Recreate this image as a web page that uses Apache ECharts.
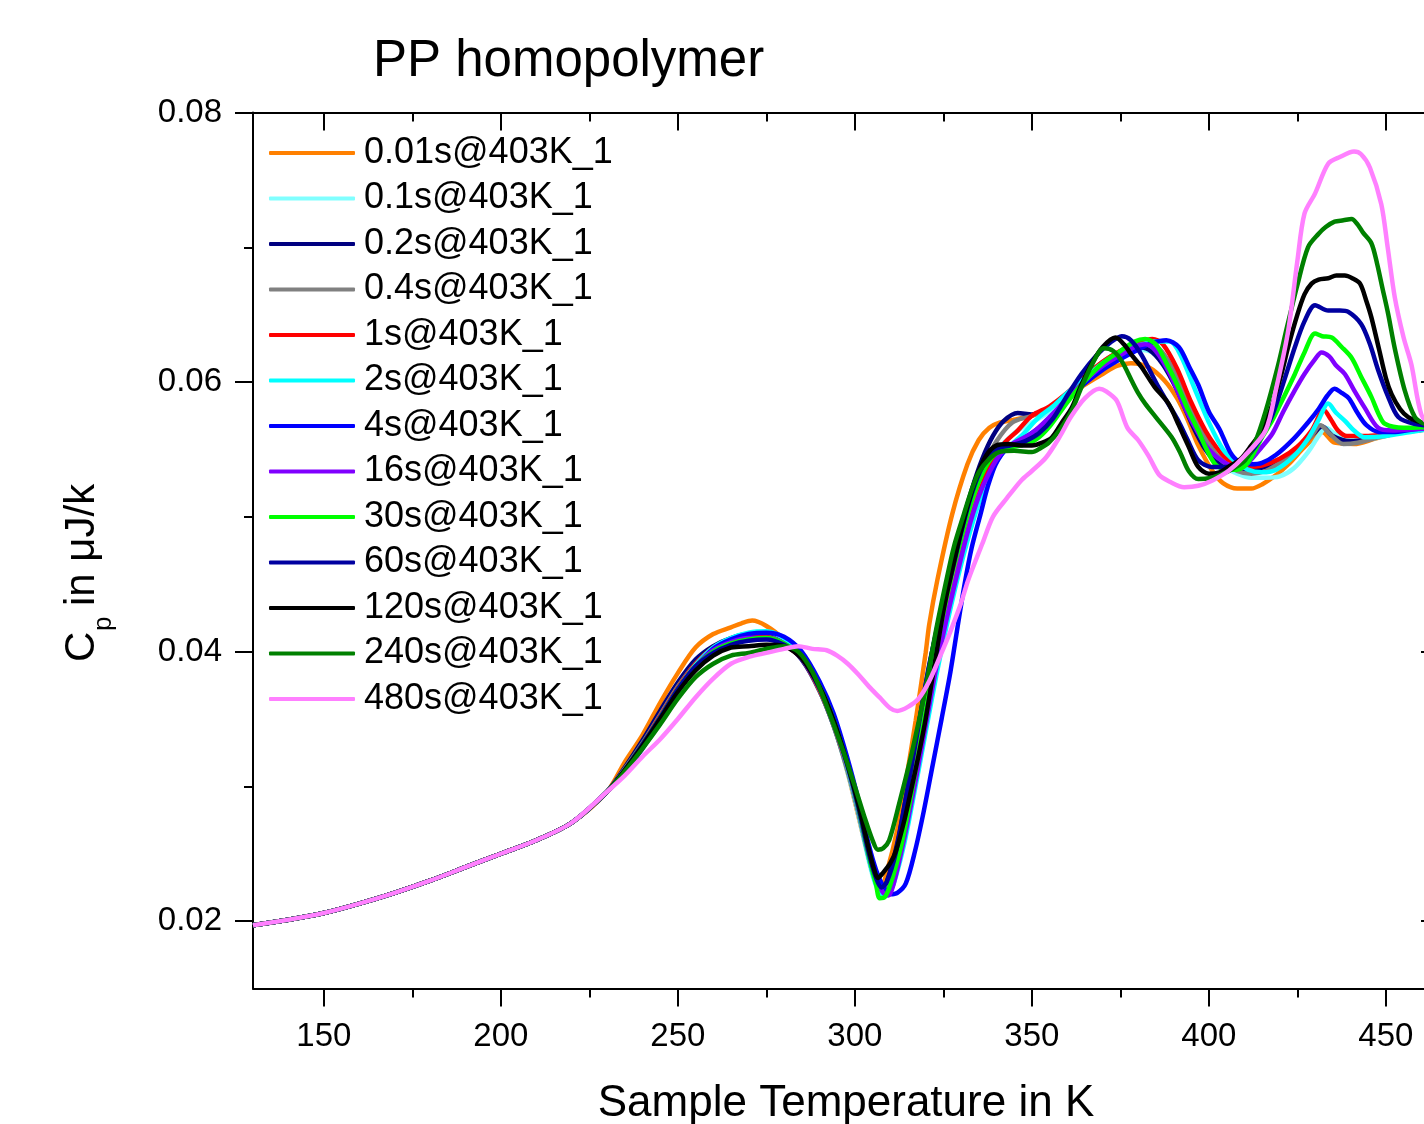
<!DOCTYPE html>
<html><head><meta charset="utf-8">
<script src="https://cdn.jsdelivr.net/npm/echarts@6/dist/echarts.min.js"></script>
<style>html,body{margin:0;padding:0;background:#fff}#c{width:1424px;height:1124px}</style>
</head><body><div id="c"></div>
<script>
// shared low-temperature part (all curves overlap here)
const lowT  = [130,140,150,160,170,180,190,200,210,220,230];
const lowCp = [0.0197,0.0201,0.0206,0.0213,0.0221,0.0230,0.0240,0.0250,0.0260,0.0273,0.0296];

const names = ['0.01s@403K_1','0.1s@403K_1','0.2s@403K_1','0.4s@403K_1','1s@403K_1','2s@403K_1','4s@403K_1','16s@403K_1','30s@403K_1','60s@403K_1','120s@403K_1','240s@403K_1','480s@403K_1'];
const colors = ['#FF8000','#80FFFF','#000080','#808080','#FF0000','#00FFFF','#0000FF','#8000FF','#00FF00','#0000A0','#000000','#008000','#FF80FF'];

const s001 = [[235,0.0318],[240,0.0338],[245,0.0362],[250,0.0384],[255,0.0403],[260,0.0413],[265,0.0418],[268,0.0421],[271,0.0423],[275,0.0419],[280,0.0409],[285,0.0395],[290,0.0372],[294,0.0346],[298,0.0310],[301,0.0278],[304,0.0246],[306,0.0231],[307.5,0.0226],[309,0.0236],[312,0.0268],[314.5,0.0305],[317.2,0.0349],[320,0.0399],[321,0.0420],[323.3,0.0453],[327.5,0.0502],[331.8,0.0539],[335,0.0557],[338,0.0566],[341,0.0570],[345,0.0572],[350,0.0575],[355,0.0580],[360,0.0588],[365,0.0598],[370,0.0606],[374,0.0612],[378,0.0614],[383,0.0611],[387.5,0.0601],[391,0.0588],[394,0.0572],[397,0.0553],[401,0.0534],[404,0.0525],[408,0.0521],[412,0.0521],[415,0.0524],[419,0.0531],[422.5,0.0539],[426,0.0549],[429,0.0557],[432,0.0563],[435.5,0.0555],[441,0.0554],[447,0.0558],[455,0.0563],[465,0.0567]];
const s01 = [[235,0.0313],[240,0.0332],[245,0.0353],[250,0.0373],[255,0.0390],[260,0.0402],[265,0.0409],[270,0.0413],[275,0.0413],[280,0.0407],[285,0.0396],[290,0.0372],[294,0.0345],[298,0.0310],[301,0.0279],[304,0.0244],[306,0.0226],[308,0.0219],[310,0.0224],[313,0.0252],[316,0.0292],[319,0.0336],[322,0.0380],[325,0.0420],[328,0.0453],[331,0.0484],[334,0.0512],[337,0.0533],[340,0.0548],[345,0.0562],[350,0.0570],[355,0.0578],[360,0.0590],[365,0.0603],[370,0.0614],[375,0.0620],[380,0.0624],[384,0.0622],[388,0.0612],[392,0.0593],[396,0.0570],[400,0.0550],[404,0.0538],[408,0.0532],[412,0.0529],[416,0.0529],[420,0.0530],[424,0.0536],[428,0.0548],[431,0.0560],[433,0.0566],[436,0.0561],[440,0.0557],[446,0.0558],[455,0.0563],[465,0.0566]];
const s02 = [[235,0.0314],[240,0.0334],[245,0.0356],[250,0.0377],[255,0.0394],[260,0.0404],[265,0.0410],[270,0.0413],[275,0.0412],[280,0.0406],[285,0.0394],[290,0.0371],[294,0.0345],[298,0.0312],[301,0.0281],[304,0.0247],[306,0.0229],[307.5,0.0224],[309,0.0229],[312,0.0258],[315,0.0300],[318,0.0345],[321,0.0390],[324,0.0425],[326.5,0.0453],[330,0.0492],[333,0.0520],[336,0.0543],[339,0.0560],[342,0.0571],[346,0.0577],[350,0.0576],[355,0.0581],[360,0.0591],[365,0.0603],[370,0.0614],[375,0.0622],[379,0.0626],[383,0.0624],[387,0.0613],[391,0.0594],[395,0.0570],[399,0.0550],[403,0.0539],[408,0.0535],[412,0.0535],[416,0.0537],[420,0.0541],[425,0.0550],[429,0.0560],[432,0.0567],[435,0.0560],[440,0.0556],[447,0.0559],[455,0.0563],[465,0.0566]];
const s04 = [[235,0.0313],[240,0.0332],[245,0.0353],[250,0.0374],[255,0.0391],[260,0.0402],[265,0.0408],[270,0.0411],[275,0.0411],[280,0.0406],[285,0.0395],[290,0.0371],[294,0.0345],[298,0.0311],[301,0.0281],[304,0.0246],[306,0.0228],[308,0.0222],[310,0.0227],[313,0.0256],[316,0.0298],[319,0.0343],[322,0.0386],[325,0.0423],[327.5,0.0453],[331,0.0490],[334,0.0518],[337,0.0540],[340,0.0556],[344.5,0.0570],[350,0.0575],[355,0.0581],[360,0.0591],[365,0.0604],[370,0.0615],[375,0.0623],[380,0.0628],[384,0.0628],[388,0.0618],[392,0.0598],[396,0.0575],[400,0.0554],[404,0.0541],[408,0.0534],[412,0.0532],[416,0.0534],[420,0.0540],[425,0.0550],[429,0.0560],[431.5,0.0568],[434,0.0562],[438,0.0554],[442,0.0555],[448,0.0559],[455,0.0563],[465,0.0566]];
const s1 = [[235,0.0312],[240,0.0331],[245,0.0352],[250,0.0373],[255,0.0391],[260,0.0403],[265,0.0409],[270,0.0412],[275,0.0411],[280,0.0405],[285,0.0395],[290,0.0372],[294,0.0347],[298,0.0313],[301,0.0283],[304,0.0249],[306,0.0231],[308,0.0223],[309.5,0.0222],[311,0.0232],[314,0.0262],[317,0.0302],[320,0.0345],[323,0.0387],[326,0.0424],[328.5,0.0453],[332,0.0490],[335,0.0516],[338,0.0537],[342,0.0554],[346,0.0564],[350,0.0575],[355,0.0582],[360,0.0592],[365,0.0604],[370,0.0615],[375,0.0623],[380,0.0629],[384,0.0632],[387,0.0628],[391,0.0610],[395,0.0585],[399,0.0564],[402,0.0552],[405,0.0543],[408,0.0539],[411,0.0537],[415,0.0538],[420,0.0543],[425,0.0552],[429,0.0564],[432.5,0.0579],[434.5,0.0572],[436.5,0.0564],[439,0.0560],[445,0.0560],[452,0.0562],[465,0.0566]];
const s2 = [[235,0.0312],[240,0.0330],[245,0.0351],[250,0.0372],[255,0.0390],[260,0.0403],[265,0.0410],[270,0.0414],[275,0.0415],[280,0.0410],[285,0.0398],[290,0.0375],[294,0.0349],[298,0.0313],[301,0.0282],[304,0.0246],[306,0.0227],[308,0.0218],[309.5,0.0220],[311,0.0228],[314,0.0258],[317,0.0298],[320,0.0340],[323,0.0382],[326,0.0420],[328.9,0.0453],[332,0.0484],[335,0.0510],[338,0.0531],[341,0.0545],[343.5,0.0552],[347,0.0560],[352,0.0574],[356,0.0582],[360,0.0592],[365,0.0603],[370,0.0614],[375,0.0622],[380,0.0627],[385,0.0630],[389,0.0630],[392,0.0620],[396,0.0595],[400,0.0570],[404,0.0550],[407.5,0.0541],[411,0.0535],[415,0.0533],[419,0.0535],[424,0.0545],[428,0.0558],[431,0.0572],[433.7,0.0584],[436,0.0577],[438.5,0.0571],[441,0.0564],[444,0.0559],[450,0.0560],[457,0.0563],[465,0.0566]];
const s4 = [[235,0.0311],[240,0.0328],[245,0.0348],[250,0.0370],[255,0.0388],[260,0.0402],[265,0.0409],[270,0.0413],[275,0.0414],[280,0.0411],[285,0.0400],[290,0.0378],[294,0.0354],[298,0.0320],[301,0.0290],[304,0.0256],[306,0.0238],[308,0.0226],[310,0.0220],[312,0.0221],[314.4,0.0228],[317,0.0252],[319.5,0.0282],[322,0.0316],[324.5,0.0350],[327,0.0385],[329,0.0418],[331,0.0450],[333,0.0477],[335.5,0.0502],[337.5,0.0522],[339.8,0.0539],[343,0.0551],[347,0.0557],[352,0.0566],[356,0.0576],[360,0.0587],[365,0.0599],[370,0.0609],[375,0.0617],[380,0.0624],[384,0.0629],[388,0.0631],[391.5,0.0626],[394.5,0.0611],[397,0.0598],[400,0.0578],[403,0.0565],[406,0.0548],[408.5,0.0541],[412,0.0539],[415,0.0540],[419,0.0546],[424,0.0558],[428,0.0570],[431,0.0580],[433.5,0.0590],[435.5,0.0595],[437.5,0.0592],[439.5,0.0588],[442,0.0577],[444.5,0.0568],[448,0.0563],[452,0.0563],[458,0.0565],[465,0.0566]];
const s16 = [[235,0.0312],[240,0.0330],[245,0.0350],[250,0.0371],[255,0.0389],[260,0.0401],[265,0.0407],[270,0.0410],[275,0.0410],[280,0.0406],[285,0.0395],[290,0.0373],[294,0.0347],[298,0.0314],[301,0.0283],[304,0.0248],[306,0.0230],[308,0.0221],[309.5,0.0219],[311,0.0228],[314,0.0262],[317,0.0302],[320,0.0345],[323,0.0388],[326,0.0425],[328.5,0.0453],[332,0.0490],[335,0.0515],[338,0.0533],[341,0.0546],[345,0.0555],[350,0.0562],[355,0.0574],[360,0.0588],[365,0.0601],[370,0.0612],[375,0.0620],[379,0.0626],[382,0.0628],[385,0.0623],[389,0.0606],[393,0.0582],[397,0.0562],[400,0.0550],[404,0.0541],[408,0.0537],[411,0.0540],[415,0.0552],[418,0.0562],[421,0.0578],[424.3,0.0594],[427,0.0606],[430,0.0617],[431.8,0.0622],[434,0.0619],[436,0.0612],[438.4,0.0606],[441,0.0594],[444,0.0581],[447.8,0.0566],[452,0.0564],[458,0.0565],[465,0.0566]];
const s30 = [[235,0.0312],[240,0.0331],[245,0.0351],[250,0.0372],[255,0.0389],[260,0.0400],[265,0.0406],[270,0.0409],[275,0.0410],[280,0.0406],[285,0.0396],[290,0.0374],[294,0.0349],[298,0.0315],[301,0.0284],[304,0.0248],[306,0.0227],[307,0.0217],[308.5,0.0218],[310,0.0227],[313,0.0255],[316,0.0295],[319,0.0340],[322,0.0385],[324.5,0.0422],[327,0.0453],[330,0.0484],[333,0.0512],[336,0.0532],[339,0.0545],[343,0.0551],[347,0.0553],[351,0.0557],[355,0.0567],[360,0.0585],[365,0.0601],[370,0.0614],[375,0.0623],[379,0.0630],[382,0.0632],[385,0.0628],[388,0.0614],[391.4,0.0596],[394,0.0580],[397,0.0564],[399,0.0552],[401.8,0.0539],[405,0.0535],[408,0.0535],[411,0.0540],[414.8,0.0558],[418,0.0572],[421,0.0588],[424.3,0.0606],[427,0.0622],[430,0.0636],[432,0.0634],[434.7,0.0633],[437.5,0.0626],[440.3,0.0618],[443,0.0604],[445.9,0.0589],[448,0.0576],[449.7,0.0569],[455,0.0566],[465,0.0567]];
const s60 = [[235,0.0312],[240,0.0331],[245,0.0351],[250,0.0372],[255,0.0389],[260,0.0399],[265,0.0405],[270,0.0408],[275,0.0409],[280,0.0405],[285,0.0395],[290,0.0373],[294,0.0348],[298,0.0315],[301,0.0285],[304,0.0250],[306,0.0232],[307.5,0.0225],[309,0.0229],[311.5,0.0250],[314,0.0285],[317,0.0330],[320,0.0375],[323,0.0415],[325.5,0.0442],[327,0.0455],[330,0.0488],[333,0.0517],[336,0.0537],[340,0.0550],[344,0.0553],[348,0.0556],[352,0.0562],[356,0.0573],[360,0.0590],[364,0.0606],[368,0.0619],[372,0.0629],[375.4,0.0634],[378,0.0631],[381,0.0620],[385.8,0.0596],[388.5,0.0584],[391.4,0.0571],[394,0.0557],[397,0.0542],[400.8,0.0537],[404,0.0537],[408,0.0538],[411,0.0545],[414.8,0.0559],[418,0.0576],[421,0.0599],[424.3,0.0626],[427,0.0645],[430,0.0657],[433.7,0.0653],[437,0.0653],[439.4,0.0652],[443,0.0643],[445.5,0.0628],[447.8,0.0609],[450.5,0.0590],[453.5,0.0574],[458,0.0569],[465,0.0567]];
const s120 = [[235,0.0312],[240,0.0330],[245,0.0350],[250,0.0370],[255,0.0386],[260,0.0397],[265,0.0403],[270,0.0404],[275,0.0405],[280,0.0404],[285,0.0395],[290,0.0374],[294,0.0349],[298,0.0316],[301,0.0287],[304,0.0253],[305.5,0.0238],[306.5,0.0232],[308,0.0236],[310,0.0243],[311.6,0.0252],[314,0.0275],[316.2,0.0301],[318,0.0323],[320,0.0350],[322.8,0.0395],[325,0.0430],[327,0.0455],[331,0.0500],[334,0.0527],[337,0.0545],[340,0.0553],[343.5,0.0554],[347,0.0553],[350,0.0553],[353,0.0555],[355.7,0.0559],[358.5,0.0570],[361.3,0.0581],[364,0.0598],[367,0.0614],[370,0.0626],[373.6,0.0633],[376,0.0628],[378.5,0.0619],[381,0.0611],[384.5,0.0597],[388.6,0.0584],[391.5,0.0568],[394.3,0.0552],[397,0.0537],[400,0.0532],[403,0.0533],[405.5,0.0537],[409,0.0543],[412,0.0553],[415,0.0564],[418,0.0584],[420.5,0.0606],[422.4,0.0626],[425,0.0650],[427,0.0665],[429,0.0673],[431,0.0676],[433.7,0.0677],[436,0.0679],[438.4,0.0679],[440.5,0.0677],[442.7,0.0673],[444.5,0.0660],[445.9,0.0648],[448,0.0625],[450,0.0603],[451.6,0.0591],[454,0.0580],[456.3,0.0574],[460,0.0570],[465,0.0567]];
const s240 = [[235,0.0311],[240,0.0328],[245,0.0346],[250,0.0365],[255,0.0381],[260,0.0391],[265,0.0397],[270,0.0399],[275,0.0402],[280,0.0404],[284,0.0400],[288,0.0385],[292,0.0360],[297,0.0324],[300,0.0300],[303,0.0275],[305,0.0260],[306.5,0.0253],[308,0.0254],[309.7,0.0260],[312.5,0.0287],[316.2,0.0326],[320,0.0373],[322.8,0.0414],[325.7,0.0451],[328,0.0478],[330.8,0.0502],[333,0.0520],[335,0.0533],[338,0.0543],[340.7,0.0548],[345,0.0549],[350,0.0548],[352.5,0.0551],[354.8,0.0555],[358,0.0565],[361.3,0.0579],[364,0.0596],[367,0.0613],[370.3,0.0625],[373,0.0623],[375.5,0.0615],[378.2,0.0601],[380,0.0592],[382,0.0584],[385,0.0574],[389.5,0.0559],[392,0.0547],[394.3,0.0534],[397,0.0528],[400.8,0.0529],[404,0.0532],[407,0.0536],[410.2,0.0542],[413,0.0555],[416,0.0578],[419.6,0.0613],[422,0.0640],[425,0.0672],[428,0.0700],[431,0.0710],[433,0.0715],[435.5,0.0719],[438,0.0720],[440.3,0.0721],[442,0.0717],[443.5,0.0711],[445.9,0.0703],[447.5,0.0688],[449,0.0670],[450.6,0.0651],[452.5,0.0625],[455.3,0.0594],[458.2,0.0574],[461,0.0569],[465,0.0567]];
const s480 = [[235,0.0308],[240,0.0322],[245,0.0335],[250,0.0350],[255,0.0366],[260,0.0380],[265,0.0391],[270,0.0396],[275,0.0399],[280,0.0402],[284,0.0404],[288,0.0402],[292,0.0401],[295,0.0397],[298,0.0391],[301,0.0383],[304,0.0374],[307,0.0366],[310,0.0358],[312,0.0356],[315,0.0359],[318,0.0365],[321,0.0378],[324,0.0396],[327,0.0415],[330,0.0436],[332,0.0453],[336,0.0480],[339,0.0500],[343,0.0514],[347,0.0527],[350,0.0534],[354,0.0544],[358,0.0560],[361,0.0574],[365,0.0588],[369,0.0595],[371,0.0593],[374,0.0586],[377,0.0566],[380,0.0557],[383,0.0545],[386,0.0531],[389,0.0526],[393,0.0522],[397,0.0523],[401,0.0527],[405.5,0.0534],[410,0.0545],[416,0.0564],[419,0.0595],[422.4,0.0638],[425,0.0690],[427,0.0725],[430,0.0740],[433.7,0.0762],[437,0.0767],[441,0.0771],[443,0.0769],[445.5,0.0759],[448.7,0.0732],[450.5,0.0700],[452.5,0.0663],[455,0.0633],[457.2,0.0613],[460,0.0576],[463,0.0567],[465,0.0566]];

const curves = [s001,s01,s02,s04,s1,s2,s4,s16,s30,s60,s120,s240,s480];

const xMajor = [150,200,250,300,350,400,450];
const xMinor = [175,225,275,325,375,425];
const yMajor = [0.02,0.04,0.06,0.08];
const yMinor = [0.03,0.05,0.07];

const FONT = "'Liberation Sans', Arial, sans-serif";
const low = lowT.map((t,i)=>[t, lowCp[i]]);

function xAxisDef(pos, vals, len, inside, line, label) {
  return {
    type:'value', min:130, max:465, position:pos,
    axisLine:{show:line, onZero:false, lineStyle:{color:'#000', width:2}},
    axisTick:{show:true, inside:inside, length:len, customValues:vals, lineStyle:{color:'#000', width:2}},
    axisLabel:{show:label, customValues:vals, margin:32, fontSize:33, color:'#000', fontFamily:FONT, formatter:v=>String(v)},
    splitLine:{show:false}
  };
}
function yAxisDef(pos, vals, len, inside, line, label) {
  return {
    type:'value', min:0.015, max:0.08, position:pos,
    axisLine:{show:line, onZero:false, lineStyle:{color:'#000', width:2}},
    axisTick:{show:true, inside:inside, length:len, customValues:vals, lineStyle:{color:'#000', width:2}},
    axisLabel:{show:label, customValues:vals, margin:31, fontSize:33, color:'#000', fontFamily:FONT, formatter:v=>v.toFixed(2)},
    splitLine:{show:false}
  };
}

const xBottom = xAxisDef('bottom', xMajor, 18, false, true, true);
Object.assign(xBottom, {name:'Sample Temperature in K', nameLocation:'middle', nameGap:93,
  nameTextStyle:{fontSize:44, color:'#000', fontFamily:FONT}});

const chart = echarts.init(document.getElementById('c'), null, {renderer:'canvas'});
chart.setOption({
  backgroundColor:'#fff',
  animation:false,
  title:{text:'PP homopolymer', left:373, top:36, padding:0,
    textStyle:{fontSize:51, fontWeight:'normal', color:'#000', fontFamily:FONT}},
  grid:{left:253, top:112.5, width:1186, height:876, containLabel:false, outerBoundsMode:'none'},
  legend:{orient:'vertical', left:264, top:128, itemWidth:86, itemHeight:4, itemGap:5.5,
    icon:'roundRect', data:names,
    textStyle:{fontSize:36, color:'#000', fontFamily:FONT, lineHeight:40, padding:[0,0,0,4]}},
  xAxis:[xBottom,
    xAxisDef('bottom', xMinor, 9, false, false, false),
    xAxisDef('top', xMajor, 18, true, true, false),
    xAxisDef('top', xMinor, 9, true, false, false)],
  yAxis:[yAxisDef('left', yMajor, 18, false, true, true),
    yAxisDef('left', yMinor, 9, false, false, false),
    yAxisDef('right', yMajor, 18, true, true, false),
    yAxisDef('right', yMinor, 9, true, false, false)],
  graphic:[
    {type:'text', x:82, y:662, rotation:Math.PI/2,
      style:{text:'C', fontSize:42, fontFamily:FONT, fill:'#000', align:'left', verticalAlign:'middle'}},
    {type:'text', x:104, y:631, rotation:Math.PI/2,
      style:{text:'p', fontSize:26, fontFamily:FONT, fill:'#000', align:'left', verticalAlign:'middle'}},
    {type:'text', x:82, y:606, rotation:Math.PI/2,
      style:{text:'in μJ/k', fontSize:42, fontFamily:FONT, fill:'#000', align:'left', verticalAlign:'middle'}}
  ],
  series: curves.map((c,i)=>({
    name:names[i], type:'line', xAxisIndex:0, yAxisIndex:0,
    data: low.concat(c), showSymbol:false, smooth:0.3, clip:true,
    color:colors[i], lineStyle:{width:4.5, color:colors[i]}, z:2+i
  }))
});
</script>
</body></html>
